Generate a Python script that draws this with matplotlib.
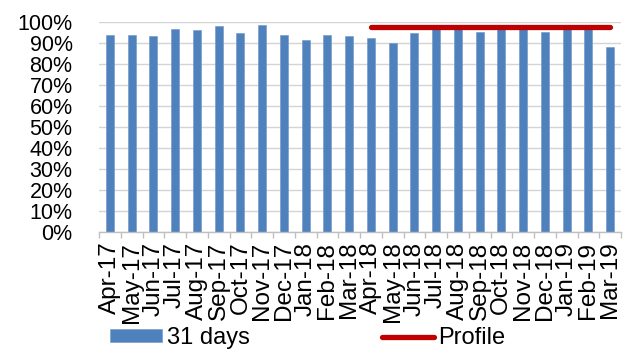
import matplotlib
matplotlib.use("Agg")
import matplotlib.pyplot as plt
from matplotlib.ticker import PercentFormatter, FixedLocator
import numpy as np

plt.rcParams['font.family'] = ['Liberation Sans', 'DejaVu Sans']

months = ["Apr-17", "May-17", "Jun-17", "Jul-17", "Aug-17", "Sep-17", "Oct-17",
          "Nov-17", "Dec-17", "Jan-18", "Feb-18", "Mar-18", "Apr-18", "May-18",
          "Jun-18", "Jul-18", "Aug-18", "Sep-18", "Oct-18", "Nov-18", "Dec-18",
          "Jan-19", "Feb-19", "Mar-19"]
days31 = [0.938, 0.938, 0.932, 0.967, 0.962, 0.980, 0.949, 0.986, 0.938, 0.913,
          0.938, 0.932, 0.925, 0.900, 0.949, 0.975, 0.975, 0.954, 0.975, 0.975,
          0.954, 0.975, 0.975, 0.881]
profile_months = ["Apr-18", "May-18", "Jun-18", "Jul-18", "Aug-18", "Sep-18",
                  "Oct-18", "Nov-18", "Dec-18", "Jan-19", "Feb-19", "Mar-19"]
profile = [0.978, 0.978, 0.978, 0.978, 0.978, 0.978,
           0.978, 0.978, 0.978, 0.978, 0.978, 0.978]

W, H = 624, 351
fig = plt.figure(figsize=(W / 100, H / 100), dpi=100)
left, right, bottom, top = 99, 621, 232, 22
ax = fig.add_axes([left / W, 1 - bottom / H, (right - left) / W, (bottom - top) / H])

x = np.arange(len(months))
bars = ax.bar(x, days31, width=0.36, color='#4F81BD', edgecolor='#6d95c8',
              linewidth=0.4, label='31 days', zorder=2)
px = [months.index(m) for m in profile_months]
line, = ax.plot(px, profile, color='#C00000', linewidth=3.8,
                solid_capstyle='round', label='Profile', zorder=3)

ax.set_xlim(-0.5, len(months) - 0.5)
ax.set_ylim(0, 1.0)
ax.yaxis.set_major_locator(FixedLocator(np.arange(0, 1.01, 0.1)))
ax.yaxis.set_major_formatter(PercentFormatter(1.0, decimals=0))
ax.grid(axis='y', color='#d4d4d4', linewidth=1.0, zorder=0)
ax.set_axisbelow(True)

ax.set_xticks(x)
ax.set_xticklabels(months, rotation=90, fontsize=17.5)
ax.xaxis.set_minor_locator(FixedLocator(np.arange(-0.5, len(months), 1)))
ax.tick_params(axis='x', which='major', length=0, pad=7)
ax.tick_params(axis='x', which='minor', length=4, color='#bfbfbf', width=1)
ax.tick_params(axis='y', length=0, labelsize=15.5, pad=19)

for s in ['top', 'right', 'left']:
    ax.spines[s].set_visible(False)
ax.spines['bottom'].set_color('#bfbfbf')
ax.spines['bottom'].set_linewidth(1)

fig.legend([bars, line], ['31 days', 'Profile'], loc='center left',
           bbox_to_anchor=(110 / W, 1 - 338 / H), ncol=2, frameon=False,
           fontsize=17, handlelength=2.2, handleheight=0.47, handletextpad=0.2,
           columnspacing=5.6, borderpad=0, borderaxespad=0)

fig.savefig('out.png', dpi=100)
